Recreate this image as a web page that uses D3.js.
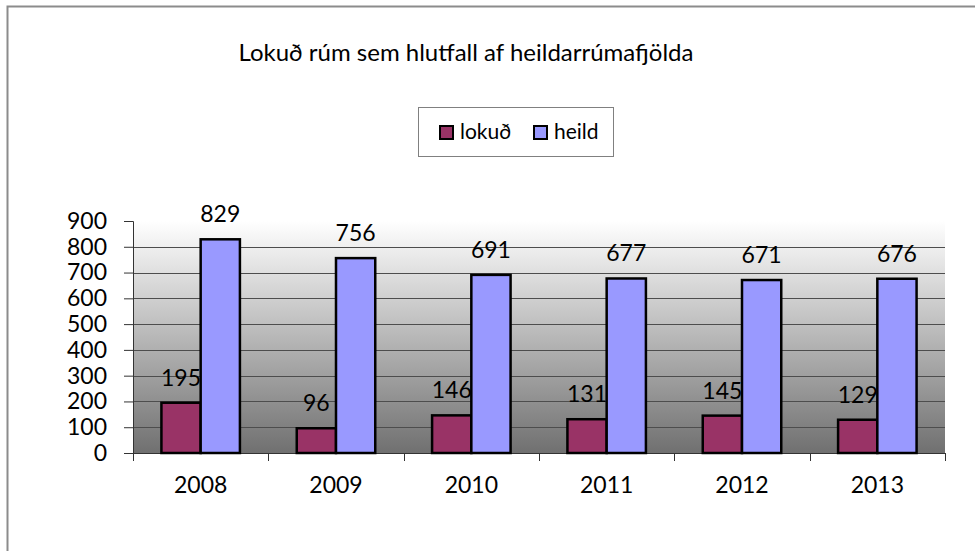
<!DOCTYPE html>
<html>
<head>
<meta charset="utf-8">
<script src="https://cdn.jsdelivr.net/npm/d3@7"></script>
<style>
  body { margin: 0; background: #fff; }
  text { font-family: Lato, "Open Sans", sans-serif; fill: #000; }
</style>
</head>
<body>
<div id="chart"></div>
<script>
// data
var years = ["2008", "2009", "2010", "2011", "2012", "2013"];
var lokud = [195, 96, 146, 131, 145, 129];
var heild = [829, 756, 691, 677, 671, 676];
var seriesNames = ["lokuð", "heild"];
var seriesColors = ["#993366", "#9999ff"];
var yTicks = [0, 100, 200, 300, 400, 500, 600, 700, 800, 900];

var W = 975, H = 551;
var margin = {top: 221, right: 30, bottom: 98, left: 133},
    width = W - margin.left - margin.right,
    height = H - margin.top - margin.bottom;

var svg = d3.select("#chart").append("svg")
    .attr("width", W)
    .attr("height", H);

// outer frame (only top and left visible)
svg.append("path")
    .attr("d", "M7.5,551 V6.5 H975")
    .attr("fill", "none")
    .attr("stroke", "#8c8c8c")
    .attr("stroke-width", 2);

var defs = svg.append("defs");
var grad = defs.append("linearGradient")
    .attr("id", "bg").attr("x1", 0).attr("y1", 0).attr("x2", 0).attr("y2", 1);
grad.append("stop").attr("offset", "0%").attr("stop-color", "#ffffff");
grad.append("stop").attr("offset", "100%").attr("stop-color", "#707070");

var g = svg.append("g")
    .attr("transform", "translate(" + margin.left + "," + margin.top + ")");

var x0 = d3.scaleBand().domain(years).range([0, width]).paddingInner(0.42).paddingOuter(0.21);
var x1 = d3.scaleBand().domain(seriesNames).range([0, x0.bandwidth()]);
var y = d3.scaleLinear().domain([0, 900]).range([height, 0]);
var xCat = d3.scaleBand().domain(years).range([0, width]);

// plot background
g.append("rect")
    .attr("x", 0).attr("y", 0)
    .attr("width", width).attr("height", height)
    .attr("fill", "url(#bg)");

// grid lines
g.append("g").selectAll("line")
    .data(yTicks.filter(function(d) { return d > 0 && d < 900; }))
  .enter().append("line")
    .attr("x1", 0).attr("x2", width)
    .attr("y1", function(d) { return Math.round(y(d)) + 0.5; })
    .attr("y2", function(d) { return Math.round(y(d)) + 0.5; })
    .attr("stroke", "#4d4d4d")
    .attr("stroke-width", 1);

// y axis
var yAxis = g.append("g")
    .call(d3.axisLeft(y).tickValues(yTicks).tickSize(9).tickPadding(17));
yAxis.select(".domain").attr("stroke", "#333");
yAxis.selectAll(".tick line").attr("stroke", "#333");
yAxis.selectAll("text").style("font-size", "23px").attr("fill", "#000");

// x axis with ticks at category boundaries
var xAxis = g.append("g")
    .attr("transform", "translate(0," + height + ")")
    .call(d3.axisBottom(xCat).tickSize(0).tickPadding(24));
xAxis.select(".domain").attr("stroke", "#333");
xAxis.selectAll("text").style("font-size", "23px").attr("fill", "#000");
xAxis.selectAll(".bound")
    .data(d3.range(years.length + 1))
  .enter().append("line")
    .attr("class", "bound")
    .attr("x1", function(i) { return Math.round(i * xCat.step()) + 0.5; })
    .attr("x2", function(i) { return Math.round(i * xCat.step()) + 0.5; })
    .attr("y1", 0).attr("y2", 8)
    .attr("stroke", "#333");

var rows = years.map(function(yr, i) {
  return {year: yr, values: [lokud[i], heild[i]]};
});

var groups = g.selectAll(".grp")
    .data(rows)
  .enter().append("g")
    .attr("class", "grp")
    .attr("transform", function(d) { return "translate(" + x0(d.year) + ",0)"; });

groups.selectAll("rect")
    .data(function(d) { return d.values.map(function(v, k) { return {k: k, v: v}; }); })
  .enter().append("rect")
    .attr("x", function(d) { return x1(seriesNames[d.k]); })
    .attr("y", function(d) { return y(d.v); })
    .attr("width", x1.bandwidth())
    .attr("height", function(d) { return height - y(d.v); })
    .attr("fill", function(d) { return seriesColors[d.k]; })
    .attr("stroke", "#000")
    .attr("stroke-width", 2.5);

groups.selectAll(".lbl")
    .data(function(d) { return d.values.map(function(v, k) { return {k: k, v: v}; }); })
  .enter().append("text")
    .attr("class", "lbl")
    .attr("x", function(d) { return x1(seriesNames[d.k]) + x1.bandwidth() / 2; })
    .attr("y", function(d) { return y(d.v) - 17; })
    .attr("text-anchor", "middle")
    .style("font-size", "23px")
    .text(function(d) { return d.v; });

// title
svg.append("text")
    .attr("x", 466).attr("y", 61)
    .attr("text-anchor", "middle")
    .style("font-size", "24px")
    .text("Lokuð rúm sem hlutfall af heildarrúmafjölda");

// legend
var lg = svg.append("g");
lg.append("rect")
    .attr("x", 418.5).attr("y", 107.5)
    .attr("width", 195).attr("height", 49)
    .attr("fill", "#fff")
    .attr("stroke", "#808080");
var legX = [440, 534];
seriesNames.forEach(function(name, k) {
  lg.append("rect")
    .attr("x", legX[k]).attr("y", 126)
    .attr("width", 13).attr("height", 13)
    .attr("fill", seriesColors[k])
    .attr("stroke", "#000")
    .attr("stroke-width", 2);
  lg.append("text")
    .attr("x", legX[k] + 20).attr("y", 139)
    .style("font-size", "21px")
    .text(name);
});
</script>
</body>
</html>
